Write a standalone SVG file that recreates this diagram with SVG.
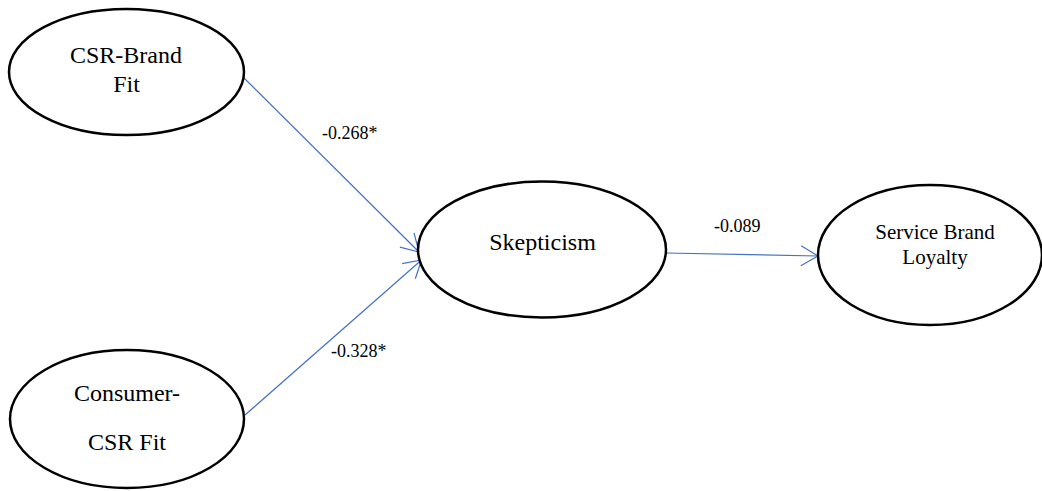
<svg xmlns="http://www.w3.org/2000/svg" width="1042" height="491" viewBox="0 0 1042 491">
<style>
.node ellipse{fill:#fff;stroke:#000;stroke-width:2.5}
.t{font-family:"Liberation Serif","Times New Roman",serif;fill:#000;text-anchor:middle}
.big{font-size:24px}
.mid{font-size:21px}
.lab{font-family:"Liberation Serif","Times New Roman",serif;font-size:18px;fill:#000}
.conn line{stroke:#4472C4;stroke-width:1.2;fill:none}
</style>
<defs>
<marker id="arr" markerUnits="userSpaceOnUse" markerWidth="40" markerHeight="40" refX="0" refY="0" viewBox="-20 -20 40 40" orient="auto" overflow="visible">
<path d="M-17,-10 L0,0 L-17,10" fill="none" stroke="#4472C4" stroke-width="1.2"/>
</marker>
</defs>
<rect width="1042" height="491" fill="#fff"/>
<g id="connectors" class="conn">
<line x1="243" y1="77" x2="419" y2="252" marker-end="url(#arr)"/>
<line x1="245" y1="415" x2="421.5" y2="260" marker-end="url(#arr)"/>
<line x1="666" y1="253" x2="818" y2="256" marker-end="url(#arr)"/>
</g>
<g id="labels">
<text class="lab" x="322" y="139">-0.268*</text>
<text class="lab" x="331" y="357">-0.328*</text>
<text class="lab" x="714" y="232">-0.089</text>
</g>
<g id="csr-brand-fit" class="node">
<ellipse cx="126.5" cy="72" rx="117.5" ry="63"/>
<text class="t big" x="126" y="63">CSR-Brand</text>
<text class="t big" x="126.5" y="92">Fit</text>
</g>
<g id="consumer-csr-fit" class="node">
<ellipse cx="127" cy="419" rx="117" ry="69"/>
<text class="t big" x="127" y="401">Consumer-</text>
<text class="t big" x="127" y="450">CSR Fit</text>
</g>
<g id="skepticism" class="node">
<ellipse cx="542" cy="249.5" rx="124" ry="68"/>
<text class="t big" x="542.5" y="250">Skepticism</text>
</g>
<g id="service-brand-loyalty" class="node">
<ellipse cx="930" cy="255" rx="112" ry="70"/>
<text class="t mid" x="935" y="239">Service Brand</text>
<text class="t mid" x="935" y="264">Loyalty</text>
</g>
</svg>
